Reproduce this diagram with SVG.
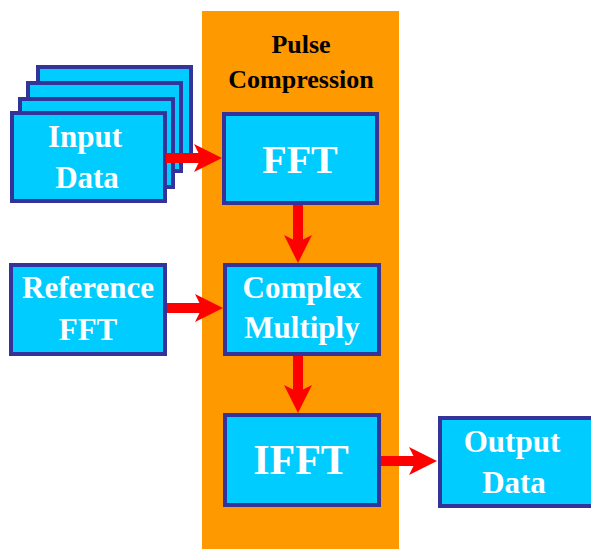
<svg xmlns="http://www.w3.org/2000/svg" width="591" height="550" viewBox="0 0 591 550">
<style>
.box{fill:#00ccff;stroke:#333399;stroke-width:4}
.lbl{font-family:"Liberation Serif","Times New Roman",serif;font-weight:bold;fill:#ffffff;text-anchor:middle}
.title{font-family:"Liberation Serif","Times New Roman",serif;font-weight:bold;fill:#000000;text-anchor:middle;font-size:26px}
.arr{stroke:#ff0000;stroke-width:10;fill:none;marker-end:url(#head)}
</style>
<defs>
<marker id="head" viewBox="0 0 28 28" refX="14" refY="14" markerWidth="28" markerHeight="28" markerUnits="userSpaceOnUse" orient="auto">
<path d="M0,0 L28,14 L0,28 L7,14 Z" fill="#ff0000"/>
</marker>
</defs>
<rect id="pulse-compression-bg" x="202" y="11" width="197" height="538" fill="#ff9900"/>
<g id="pulse-compression-title">
<text class="title" x="301" y="53">Pulse</text>
<text class="title" x="301" y="88">Compression</text>
</g>
<g id="input-data">
<rect class="box" x="38" y="67" width="153" height="88"/>
<rect class="box" x="28" y="83" width="153" height="88"/>
<rect class="box" x="20" y="99" width="153" height="88"/>
<rect class="box" x="12" y="113" width="153" height="88"/>
<text class="lbl" x="85" y="147" font-size="31">Input</text>
<text class="lbl" x="87" y="188" font-size="31">Data</text>
</g>
<g id="fft">
<rect class="box" x="224" y="114" width="153" height="89"/>
<text class="lbl" x="300" y="173" font-size="40">FFT</text>
</g>
<g id="reference-fft">
<rect class="box" x="11" y="265" width="154" height="89"/>
<text class="lbl" x="88" y="298" font-size="31">Reference</text>
<text class="lbl" x="88" y="340" font-size="31">FFT</text>
</g>
<g id="complex-multiply">
<rect class="box" x="225" y="265" width="154" height="89"/>
<text class="lbl" x="302" y="298" font-size="31">Complex</text>
<text class="lbl" x="302" y="338" font-size="31">Multiply</text>
</g>
<g id="ifft">
<rect class="box" x="225" y="415" width="154" height="90"/>
<text class="lbl" x="301" y="474" font-size="42">IFFT</text>
</g>
<g id="output-data">
<rect class="box" x="440" y="418" width="154" height="88"/>
<text class="lbl" x="512" y="452" font-size="31">Output</text>
<text class="lbl" x="514" y="493" font-size="31">Data</text>
</g>
<g id="connectors">
<line class="arr" x1="166" y1="158" x2="208" y2="158"/>
<line class="arr" x1="298" y1="205" x2="298" y2="249"/>
<line class="arr" x1="167" y1="308" x2="209" y2="308"/>
<line class="arr" x1="298" y1="356" x2="298" y2="399"/>
<line class="arr" x1="381" y1="461" x2="423" y2="461"/>
</g>
</svg>
